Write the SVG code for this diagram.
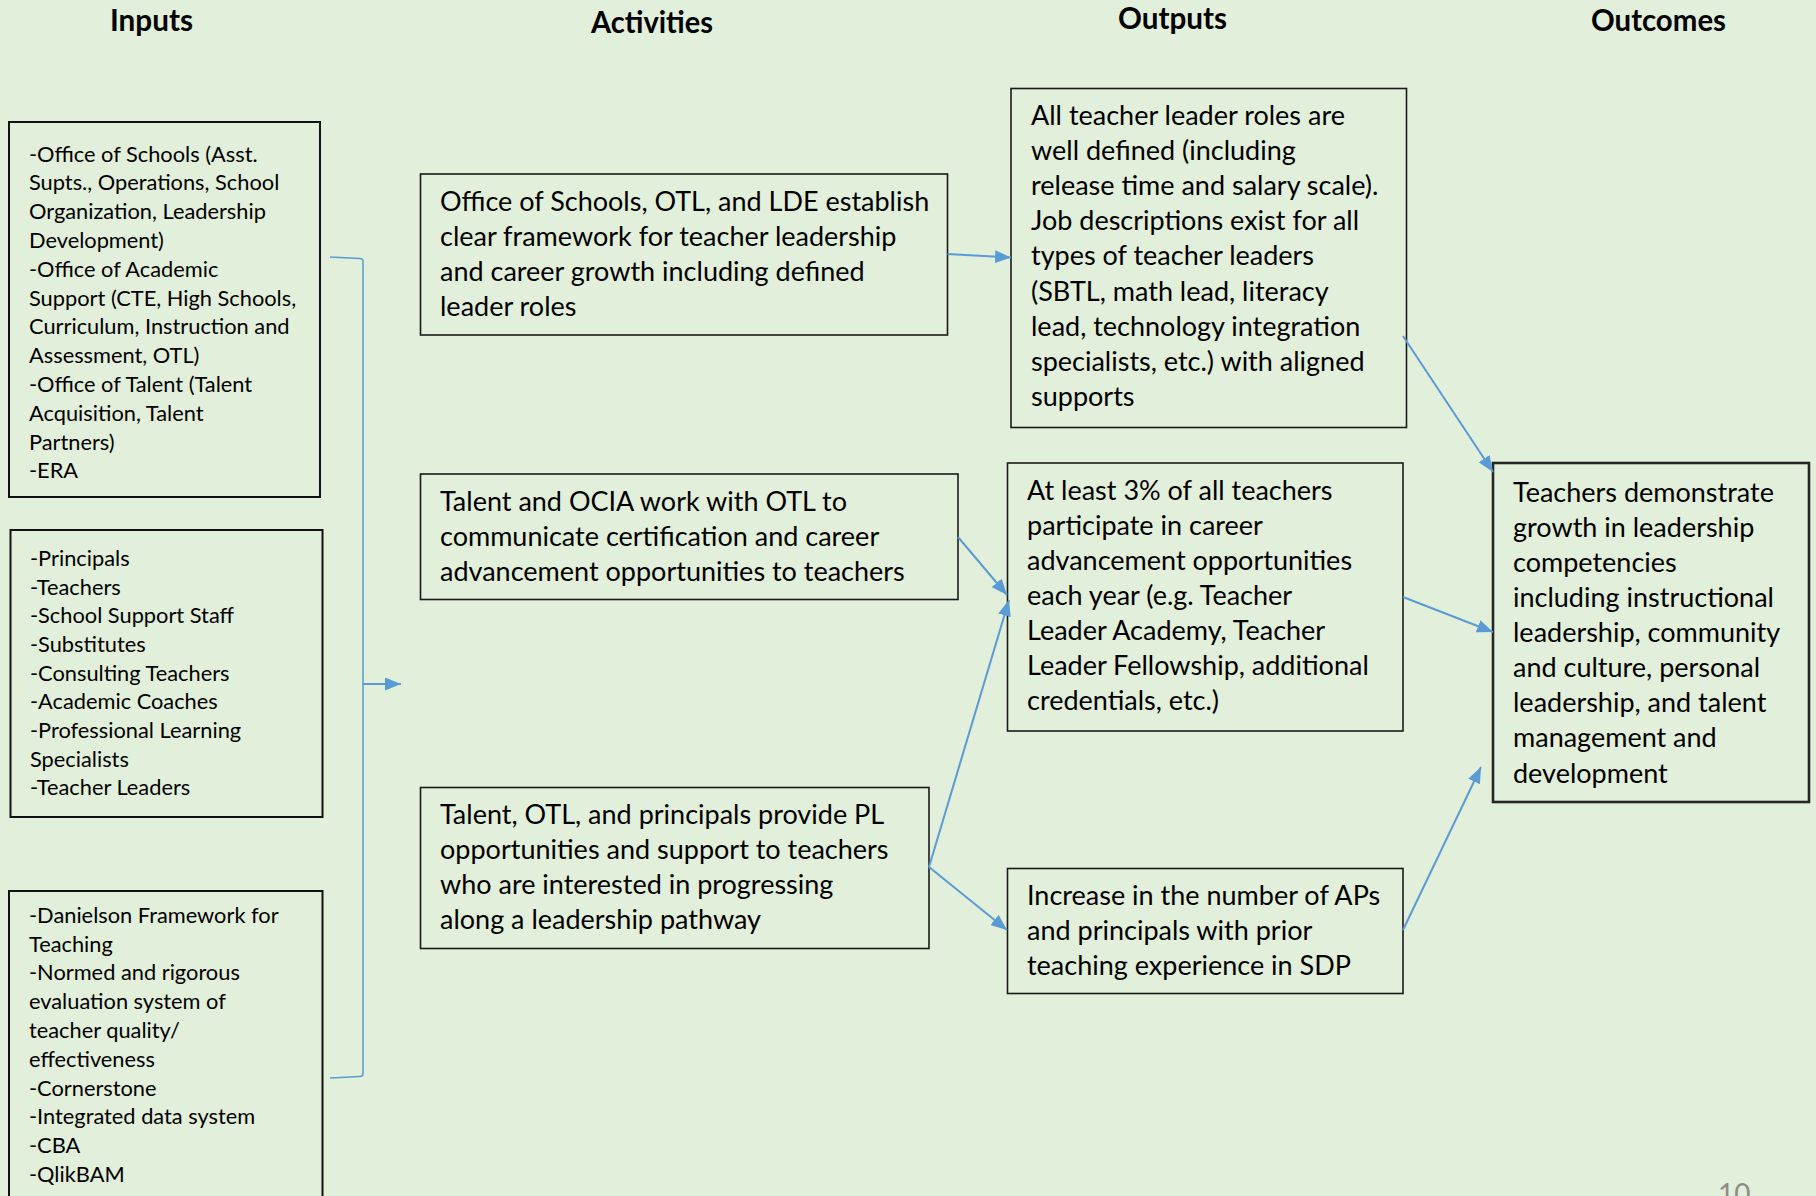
<svg xmlns="http://www.w3.org/2000/svg" width="1816" height="1196" viewBox="0 0 1816 1196">
  <defs>
    <style>
      .hdr { font-family: Lato, "Open Sans", sans-serif; font-weight: 700; font-size: 30px; fill: #000; }
      .box { fill: none; stroke: #1a1a1a; stroke-width: 1.6; }
      .box-in { fill: none; stroke: #111; stroke-width: 2; }
      .box-out { fill: none; stroke: #262626; stroke-width: 2.6; }
      .t-in { font-family: Lato, "Open Sans", sans-serif; font-size: 21.8px; fill: #000; }
      .t-md { font-family: Lato, "Open Sans", sans-serif; font-size: 27px; fill: #000; }
      .conn { fill: none; stroke: #5B9BD5; stroke-width: 2; }
      .brace { fill: none; stroke: #5B9BD5; stroke-width: 1.5; }
      .pg { font-family: Lato, "Open Sans", sans-serif; font-size: 28px; fill: #8c8c8c; }
    </style>
    <marker id="arr" viewBox="0 0 16 13" refX="16" refY="6.5" markerWidth="16" markerHeight="13" markerUnits="userSpaceOnUse" orient="auto">
      <path d="M0,0 L16,6.5 L0,13 Z" fill="#5B9BD5"/>
    </marker>
  </defs>

  <rect x="0" y="0" width="1816" height="1196" fill="#E2EFDA"/>

  <!-- column headings -->
  <g id="headings">
    <text class="hdr" x="110" y="31" textLength="83" lengthAdjust="spacingAndGlyphs">Inputs</text>
    <text class="hdr" x="591" y="33" textLength="122" lengthAdjust="spacingAndGlyphs">Activities</text>
    <text class="hdr" x="1118" y="29" textLength="109" lengthAdjust="spacingAndGlyphs">Outputs</text>
    <text class="hdr" x="1591" y="31" textLength="135" lengthAdjust="spacingAndGlyphs">Outcomes</text>
  </g>

  <!-- inputs -->
  <g id="input-offices">
    <rect class="box-in" x="9" y="122" width="311" height="375"/>
    <text class="t-in" x="29" y="161.5">
      <tspan x="29">-Office of Schools (Asst.</tspan>
      <tspan x="29" dy="28.8">Supts., Operations, School</tspan>
      <tspan x="29" dy="28.8">Organization, Leadership</tspan>
      <tspan x="29" dy="28.8">Development)</tspan>
      <tspan x="29" dy="28.8">-Office of Academic</tspan>
      <tspan x="29" dy="28.8">Support (CTE, High Schools,</tspan>
      <tspan x="29" dy="28.8">Curriculum, Instruction and</tspan>
      <tspan x="29" dy="28.8">Assessment, OTL)</tspan>
      <tspan x="29" dy="28.8">-Office of Talent (Talent</tspan>
      <tspan x="29" dy="28.8">Acquisition, Talent</tspan>
      <tspan x="29" dy="28.8">Partners)</tspan>
      <tspan x="29" dy="28.8">-ERA</tspan>
    </text>
  </g>

  <g id="input-people">
    <rect class="box-in" x="10.5" y="530" width="312" height="287"/>
    <text class="t-in" x="30" y="566">
      <tspan x="30">-Principals</tspan>
      <tspan x="30" dy="28.66">-Teachers</tspan>
      <tspan x="30" dy="28.66">-School Support Staff</tspan>
      <tspan x="30" dy="28.66">-Substitutes</tspan>
      <tspan x="30" dy="28.66">-Consulting Teachers</tspan>
      <tspan x="30" dy="28.66">-Academic Coaches</tspan>
      <tspan x="30" dy="28.66">-Professional Learning</tspan>
      <tspan x="30" dy="28.66">Specialists</tspan>
      <tspan x="30" dy="28.66">-Teacher Leaders</tspan>
    </text>
  </g>

  <g id="input-systems">
    <rect class="box-in" x="9" y="891" width="313.5" height="330"/>
    <text class="t-in" x="29" y="922.7">
      <tspan x="29">-Danielson Framework for</tspan>
      <tspan x="29" dy="28.8">Teaching</tspan>
      <tspan x="29" dy="28.8">-Normed and rigorous</tspan>
      <tspan x="29" dy="28.8">evaluation system of</tspan>
      <tspan x="29" dy="28.8">teacher quality/</tspan>
      <tspan x="29" dy="28.8">effectiveness</tspan>
      <tspan x="29" dy="28.8">-Cornerstone</tspan>
      <tspan x="29" dy="28.8">-Integrated data system</tspan>
      <tspan x="29" dy="28.8">-CBA</tspan>
      <tspan x="29" dy="28.8">-QlikBAM</tspan>
    </text>
  </g>

  <!-- activities -->
  <g id="activity-framework">
    <rect class="box" x="420.5" y="174" width="527" height="161"/>
    <text class="t-md" x="440" y="210.5">
      <tspan x="440">Office of Schools, OTL, and LDE establish</tspan>
      <tspan x="440" dy="35.1">clear framework for teacher leadership</tspan>
      <tspan x="440" dy="35.1">and career growth including defined</tspan>
      <tspan x="440" dy="35.1">leader roles</tspan>
    </text>
  </g>

  <g id="activity-communicate">
    <rect class="box" x="420.5" y="474" width="537.5" height="125.5"/>
    <text class="t-md" x="440" y="510.5">
      <tspan x="440">Talent and OCIA work with OTL to</tspan>
      <tspan x="440" dy="35.1">communicate certification and career</tspan>
      <tspan x="440" dy="35.1">advancement opportunities to teachers</tspan>
    </text>
  </g>

  <g id="activity-pl">
    <rect class="box" x="420.5" y="787.5" width="508.5" height="161"/>
    <text class="t-md" x="440" y="823.5">
      <tspan x="440">Talent, OTL, and principals provide PL</tspan>
      <tspan x="440" dy="35.1">opportunities and support to teachers</tspan>
      <tspan x="440" dy="35.1">who are interested in progressing</tspan>
      <tspan x="440" dy="35.1">along a leadership pathway</tspan>
    </text>
  </g>

  <!-- outputs -->
  <g id="output-roles">
    <rect class="box" x="1011" y="88.5" width="395.5" height="339"/>
    <text class="t-md" x="1031" y="125">
      <tspan x="1031">All teacher leader roles are</tspan>
      <tspan x="1031" dy="35.1">well defined (including</tspan>
      <tspan x="1031" dy="35.1">release time and salary scale).</tspan>
      <tspan x="1031" dy="35.1">Job descriptions exist for all</tspan>
      <tspan x="1031" dy="35.1">types of teacher leaders</tspan>
      <tspan x="1031" dy="35.1">(SBTL, math lead, literacy</tspan>
      <tspan x="1031" dy="35.1">lead, technology integration</tspan>
      <tspan x="1031" dy="35.1">specialists, etc.) with aligned</tspan>
      <tspan x="1031" dy="35.1">supports</tspan>
    </text>
  </g>

  <g id="output-participation">
    <rect class="box" x="1007.5" y="463" width="395.5" height="268"/>
    <text class="t-md" x="1027" y="499.5">
      <tspan x="1027">At least 3% of all teachers</tspan>
      <tspan x="1027" dy="35.1">participate in career</tspan>
      <tspan x="1027" dy="35.1">advancement opportunities</tspan>
      <tspan x="1027" dy="35.1">each year (e.g. Teacher</tspan>
      <tspan x="1027" dy="35.1">Leader Academy, Teacher</tspan>
      <tspan x="1027" dy="35.1">Leader Fellowship, additional</tspan>
      <tspan x="1027" dy="35.1">credentials, etc.)</tspan>
    </text>
  </g>

  <g id="output-administrators">
    <rect class="box" x="1007.5" y="868.5" width="395.5" height="125"/>
    <text class="t-md" x="1027" y="904.5">
      <tspan x="1027">Increase in the number of APs</tspan>
      <tspan x="1027" dy="35.1">and principals with prior</tspan>
      <tspan x="1027" dy="35.1">teaching experience in SDP</tspan>
    </text>
  </g>

  <!-- outcome -->
  <g id="outcome-growth">
    <rect class="box-out" x="1493" y="463" width="316" height="339"/>
    <text class="t-md" x="1513" y="501.7">
      <tspan x="1513">Teachers demonstrate</tspan>
      <tspan x="1513" dy="35.1">growth in leadership</tspan>
      <tspan x="1513" dy="35.1">competencies</tspan>
      <tspan x="1513" dy="35.1">including instructional</tspan>
      <tspan x="1513" dy="35.1">leadership, community</tspan>
      <tspan x="1513" dy="35.1">and culture, personal</tspan>
      <tspan x="1513" dy="35.1">leadership, and talent</tspan>
      <tspan x="1513" dy="35.1">management and</tspan>
      <tspan x="1513" dy="35.1">development</tspan>
    </text>
  </g>

  <!-- connectors -->
  <g id="connectors">
    <path class="brace" d="M330,257 L360,258.5 Q363,258.5 363,261.5 L363,1073.5 Q363,1076.5 360,1076.5 L330,1078"/>
    <line class="conn" x1="363" y1="684" x2="401" y2="684" marker-end="url(#arr)"/>
    <line class="conn" x1="947.5" y1="254" x2="1011" y2="257.5" marker-end="url(#arr)"/>
    <line class="conn" x1="958" y1="537" x2="1007" y2="595" marker-end="url(#arr)"/>
    <line class="conn" x1="929" y1="867" x2="1009" y2="600" marker-end="url(#arr)"/>
    <line class="conn" x1="929" y1="867" x2="1007" y2="930" marker-end="url(#arr)"/>
    <line class="conn" x1="1403" y1="336" x2="1493" y2="472" marker-end="url(#arr)"/>
    <line class="conn" x1="1403" y1="597" x2="1493" y2="632" marker-end="url(#arr)"/>
    <line class="conn" x1="1403" y1="930" x2="1481" y2="767" marker-end="url(#arr)"/>
  </g>

  <text class="pg" x="1718" y="1204">10</text>
</svg>
